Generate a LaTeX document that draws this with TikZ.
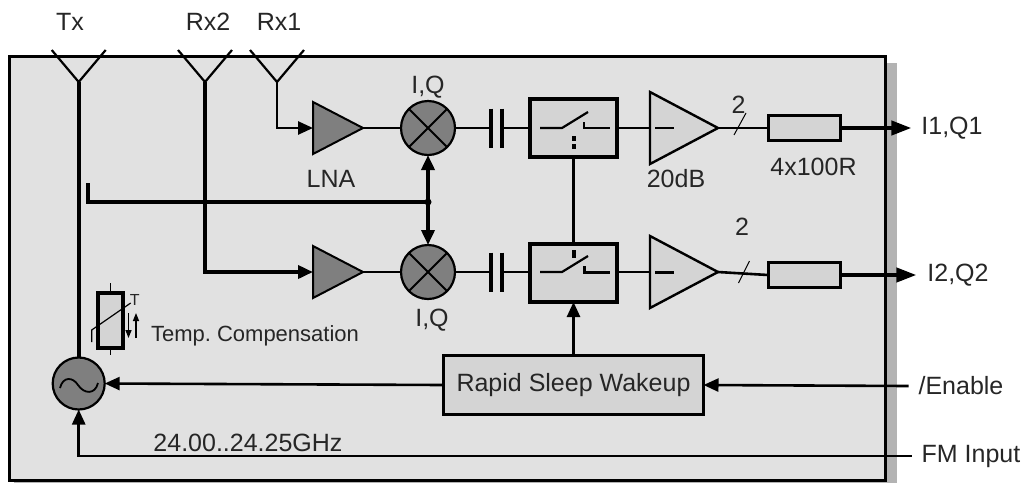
\documentclass[tikz,border=0pt]{standalone}
\usepackage{fontspec}
\setmainfont{Liberation Sans}
\usetikzlibrary{arrows.meta, positioning, calc, shapes.geometric}

\definecolor{panelfill}{HTML}{E1E1E1}
\definecolor{shadowfill}{HTML}{B3B3B3}
\definecolor{blockfill}{HTML}{D4D4D4}
\definecolor{darkfill}{HTML}{7F7F7F}

\tikzset{
  lbl/.style={font=\fontsize{25}{28}\selectfont, text=black!85, inner sep=0pt, outer sep=0pt},
  wire/.style={draw=black, line width=2.6pt},
  bus/.style={draw=black, line width=3.6pt},
  tip/.style={-{Triangle[length=15pt, width=13pt]}},
  bigtip/.style={-{Triangle[length=20pt, width=14pt]}},
  lna/.style={isosceles triangle, isosceles triangle stretches, anchor=lower side, draw=black, line width=2pt,
    fill=darkfill, minimum width=52pt, minimum height=50pt, inner sep=0pt, outer sep=0pt},
  ampl/.style={isosceles triangle, isosceles triangle stretches, anchor=lower side, draw=black, line width=2.4pt,
    fill=blockfill, minimum width=72pt, minimum height=68pt, inner sep=0pt, outer sep=0pt},
  roundel/.style={circle, draw=black, line width=2.2pt, fill=darkfill, inner sep=0pt, outer sep=0pt},
  swbox/.style={rectangle, draw=black, line width=3.4pt, fill=blockfill,
    minimum width=87pt, minimum height=58pt, inner sep=0pt, outer sep=0pt},
  resbox/.style={rectangle, draw=black, line width=3pt, fill=blockfill,
    minimum width=72pt, minimum height=25pt, inner sep=0pt, outer sep=0pt},
  capgap/.style={rectangle, minimum width=11pt, minimum height=39pt, inner sep=0pt, outer sep=0pt},
}

\begin{document}
\begin{tikzpicture}[x=1pt, y=-1pt]
  \useasboundingbox (0,0) rectangle (1027,483);

  % housing
  \fill[shadowfill] (14,63) rectangle (897,483);
  \draw[line width=3pt, fill=panelfill] (9,56.5) rectangle (885,480.5);

  % antennas
  \foreach \nm/\x in {Tx/78.7, Rxb/205, Rxa/277} {
    \coordinate (ant\nm) at (\x,82);
    \draw[line width=2.2pt] (\x-27,50) -- (ant\nm) -- (\x+27,50);
  }
  \node[lbl] (lblTx) at (70,22) {Tx};
  \node[lbl] (lblRxb) at (208,22) {Rx2};
  \node[lbl] (lblRxa) at (279,22) {Rx1};

  % upper and lower chain
  \node[lna] (lnaA) at (313,128) {};
  \node[lna] (lnaB) at (313,272) {};
  \node[roundel, minimum size=54pt] (mixA) at (428,128) {};
  \node[roundel, minimum size=54pt] (mixB) at (428,272) {};
  \node[capgap] (capA) at (496.5,128) {};
  \node[capgap] (capB) at (496.5,272) {};
  \node[swbox] (swA) at (573.5,128) {};
  \node[swbox] (swB) at (573.5,273) {};
  \node[ampl] (ampA) at (650,128) {};
  \node[ampl] (ampB) at (650,272) {};
  \node[resbox] (resA) at (804,128) {};
  \node[resbox] (resB) at (804,275) {};

  \draw[line width=1.8pt] (mixA.45) -- (mixA.225) (mixA.135) -- (mixA.315);
  \draw[line width=1.8pt] (mixB.45) -- (mixB.225) (mixB.135) -- (mixB.315);
  \draw[line width=4pt] (capA.north west) -- (capA.south west) (capA.north east) -- (capA.south east);
  \draw[line width=4pt] (capB.north west) -- (capB.south west) (capB.north east) -- (capB.south east);

  \draw[wire, tip] (antRxa) |- (lnaA.lower side);
  \draw[bus, tip] (antRxb) |- (lnaB.lower side);
  \draw[wire] (lnaA.apex) -- (mixA.west);
  \draw[wire] (lnaB.apex) -- (mixB.west);
  \draw[wire] (mixA.east) -- (capA.west);
  \draw[wire] (mixB.east) -- (capB.west);
  \draw[wire] (capA.east) -- (swA.west);
  \draw[wire] (capB.east) -- (swB.west |- capB.east);
  \draw[wire] (swA.east) -- (ampA.lower side);
  \draw[wire] (swB.east |- ampB.lower side) -- (ampB.lower side);
  \draw[wire] (ampA.apex) -- (resA.west);
  \draw[wire] (ampB.apex) -- (resB.west);

  % switches
  \draw[line width=2.2pt] (540,128) -- (562,128) -- (588,112);
  \draw[line width=2.6pt] (584,122) -- (584,128) -- (610,128);
  \draw[line width=4pt] (573.5,136) -- (573.5,141) (573.5,144) -- (573.5,149);
  \draw[line width=2.2pt] (540,272) -- (562,272) -- (588,256);
  \draw[line width=3pt] (584,266) -- (584,272) -- (610,272);
  \draw[line width=4pt] (573.5,250) -- (573.5,258);
  \draw[wire] (swA.south) -- (swB.north);

  % amplifier marks
  \draw[line width=2.6pt] (655,128) -- (674,128);
  \draw[line width=3pt] (655,272) -- (674,272);
  \draw[line width=1pt] (734,135) -- (746,113);
  \draw[line width=1pt] (738.5,283) -- (749.5,261);

  % LO feed
  \node[circle, fill=black, minimum size=7pt, inner sep=0pt] (dotLo) at (428,202) {};
  \coordinate (loEnd) at (88,183);
  \draw[bus] (loEnd) |- (dotLo.center);
  \draw[bus, tip] (dotLo.center) -- (mixA.south);
  \draw[bus, tip] (dotLo.center) -- (mixB.north);

  % oscillator
  \node[roundel, minimum size=52pt] (osc) at (78.7,383.5) {};
  \draw[line width=1.8pt] (60,388) .. controls (63,376) and (73,377) .. (78,385)
    .. controls (84,394) and (95,395) .. (98,383);
  \draw[bus] (antTx) -- (osc.north);

  % thermistor
  \node[rectangle, draw=black, line width=3.2pt, fill=blockfill, minimum width=25pt,
    minimum height=55pt, inner sep=0pt, outer sep=0pt] (therm) at (110.5,320.5) {};
  \draw[line width=1.2pt] (therm.north) -- ++(0,-10);
  \draw[line width=1.2pt] (therm.south) -- ++(0,7);
  \draw[line width=1.2pt] (91.7,342) -- (91.7,330) -- (130.7,303);
  \draw[line width=1.4pt, -{Triangle[length=8pt, width=6pt]}] (128.5,313) -- (128.5,338);
  \draw[line width=1.4pt, -{Triangle[length=8pt, width=6pt]}] (136,338) -- (136,313);
  \node[lbl, font=\fontsize{16}{18}\selectfont] (lblT) at (134.7,300) {T};
  \node[lbl, font=\fontsize{22}{24}\selectfont] (lblTemp) at (255,336) {Temp.\ Compensation};

  % wakeup
  \node[rectangle, draw=black, line width=3.4pt, fill=blockfill, minimum width=260pt,
    minimum height=59pt, inner sep=0pt, outer sep=0pt, font=\fontsize{25}{28}\selectfont,
    text=black!85] (wake) at (573.5,385) {Rapid Sleep Wakeup};
  \draw[wire, tip] (wake.west) -- (osc.east);
  \draw[wire, tip] (wake.north) -- (swB.south);

  % outside signals
  \node[lbl] (lblA) at (952,128) {I1,Q1};
  \node[lbl] (lblB) at (958,275) {I2,Q2};
  \node[lbl] (lblEn) at (961,386) {/Enable};
  \node[lbl] (lblFm) at (971,456) {FM Input};
  \draw[line width=4pt, bigtip] (resA.east) -- ([xshift=-10pt]lblA.west);
  \draw[line width=4pt, bigtip] (resB.east) -- ([xshift=-11pt]lblB.west);
  \draw[wire, tip] ([xshift=-10pt]lblEn.west) -- (wake.east);
  \draw[wire, tip] ([xshift=-10pt]lblFm.west) -| (osc.south);

  % remaining labels
  \node[lbl] (lblIqa) at (428,87) {I,Q};
  \node[lbl] (lblIqb) at (432,320) {I,Q};
  \node[lbl] (lblLna) at (331,179) {LNA};
  \node[lbl] (lblGain) at (676,179) {20dB};
  \node[lbl] (lblRes) at (813.5,167) {4x100R};
  \node[lbl] (lblTwoA) at (738.5,105) {2};
  \node[lbl] (lblTwoB) at (742,227) {2};
  \node[lbl] (lblFreq) at (248,443) {24.00..24.25GHz};
\end{tikzpicture}
\end{document}
